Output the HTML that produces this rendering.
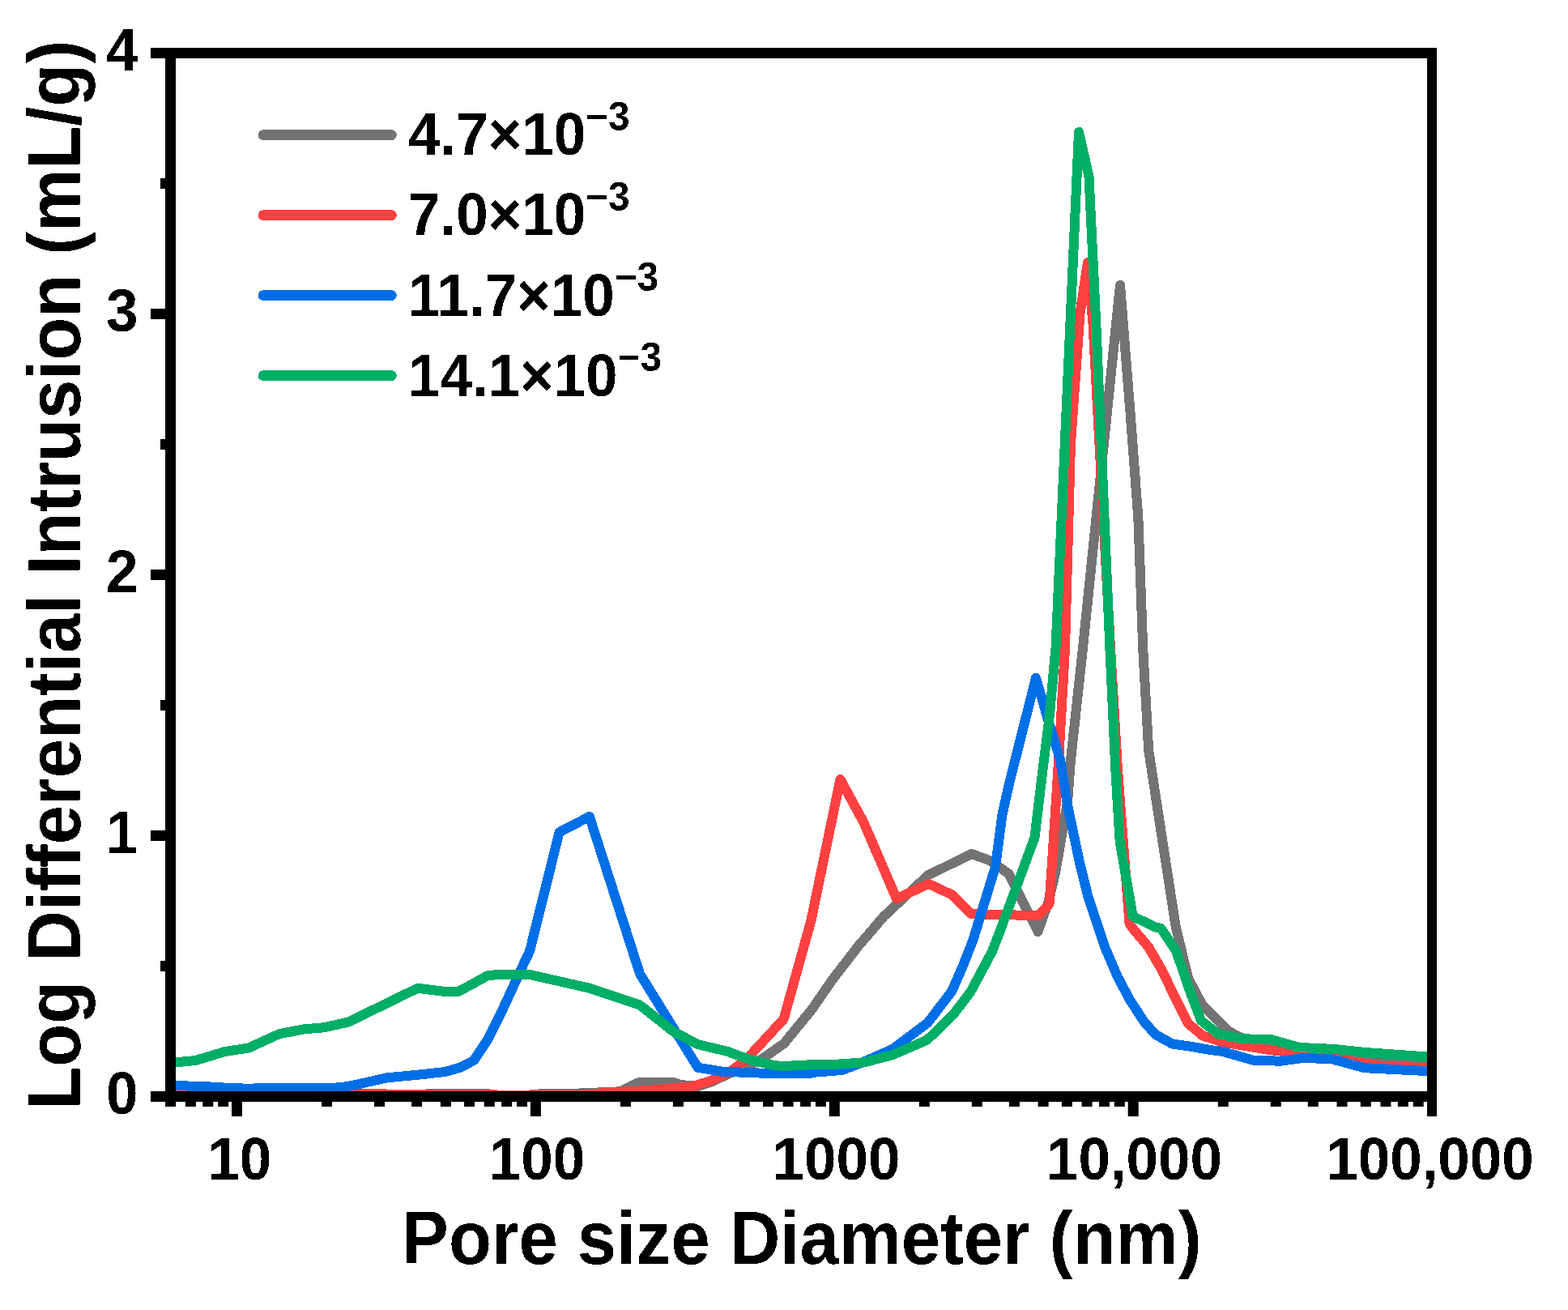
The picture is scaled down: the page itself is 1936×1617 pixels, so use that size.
<!DOCTYPE html>
<html><head><meta charset="utf-8"><title>Pore size distribution</title>
<style>html,body{margin:0;padding:0;background:#fff;}svg{display:block;}</style></head>
<body>
<svg width="1936" height="1617" viewBox="0 0 1936 1617">
<rect width="1936" height="1617" fill="#fff"/>
<defs><filter id="bin" x="0" y="0" width="1" height="1" filterUnits="objectBoundingBox"><feComponentTransfer><feFuncA type="discrete" tableValues="0 1"/></feComponentTransfer></filter><clipPath id="pc"><rect x="210.5" y="65.5" width="1557.5" height="1288"/></clipPath></defs>
<g clip-path="url(#pc)">
<polyline points="205.0,1350.5 526.0,1350.5 569.0,1350.0 605.0,1350.5 615.0,1352.5 643.0,1352.5 671.0,1350.0 704.0,1350.0 765.5,1347.3 790.0,1335.5 830.5,1335.5 840.0,1339.0 862.0,1341.0 877.0,1336.0 904.5,1323.4 939.0,1308.5 968.0,1288.0 1002.0,1246.5 1028.0,1209.0 1060.0,1167.5 1091.4,1131.0 1145.7,1080.5 1199.5,1054.0 1222.6,1062.3 1245.8,1078.8 1281.5,1150.0 1294.6,1113.1 1303.3,1076.0 1311.3,1029.0 1318.1,989.5 1321.8,940.0 1337.0,800.0 1383.0,352.0 1396.1,516.5 1405.4,640.2 1411.2,800.0 1418.2,926.3 1429.5,1000.0 1451.8,1144.7 1467.2,1207.8 1483.9,1239.4 1517.3,1272.8 1530.0,1280.0 1560.0,1290.0 1600.0,1296.0 1650.0,1302.5 1761.0,1309.0 1775.0,1309.5" fill="none" stroke="#737373" stroke-width="12" stroke-linejoin="round" stroke-linecap="butt" shape-rendering="crispEdges"/>
<polyline points="205.0,1351.0 435.0,1350.0 560.0,1351.5 605.0,1350.8 620.0,1352.0 700.0,1352.0 725.0,1351.3 755.0,1348.1 800.0,1346.0 854.0,1341.3 877.2,1334.1 899.5,1324.5 921.0,1308.3 967.7,1257.8 1001.5,1136.0 1037.5,962.0 1066.4,1015.2 1107.0,1109.4 1146.6,1090.9 1175.5,1104.5 1199.5,1128.4 1240.0,1129.0 1282.0,1130.5 1295.5,1116.0 1299.0,1065.0 1307.0,940.0 1315.0,800.0 1322.0,547.0 1333.5,387.0 1343.0,324.0 1349.5,400.0 1371.0,800.0 1380.0,950.0 1394.5,1140.0 1397.6,1144.7 1418.0,1168.9 1434.7,1197.6 1452.4,1234.7 1467.2,1263.5 1484.8,1278.3 1509.9,1286.5 1564.4,1295.5 1600.7,1300.0 1660.0,1309.0 1705.0,1315.5 1761.0,1318.5 1775.0,1319.0" fill="none" stroke="#FF4040" stroke-width="12" stroke-linejoin="round" stroke-linecap="butt" shape-rendering="crispEdges"/>
<polyline points="205.0,1340.0 217.0,1340.1 251.0,1341.0 276.0,1342.5 305.0,1343.7 334.0,1343.0 367.0,1342.5 408.0,1343.0 423.0,1342.0 437.0,1339.5 478.0,1330.3 520.0,1326.3 549.6,1323.0 567.8,1317.8 585.0,1309.0 601.7,1284.0 620.7,1245.9 642.6,1198.3 654.2,1173.5 690.6,1027.2 727.8,1007.9 790.0,1202.0 861.5,1317.6 893.7,1323.0 922.6,1323.8 947.4,1325.0 965.3,1325.2 1000.0,1325.0 1006.6,1323.6 1039.7,1321.0 1064.5,1311.5 1101.5,1295.3 1145.5,1262.4 1175.2,1223.6 1189.3,1191.3 1201.5,1160.0 1229.0,1070.0 1237.4,1006.0 1245.6,969.1 1279.0,836.7 1293.5,886.8 1309.1,938.0 1318.0,993.6 1333.0,1064.9 1343.5,1107.2 1364.6,1170.0 1380.0,1206.0 1394.8,1233.8 1412.4,1260.9 1426.8,1277.1 1447.8,1288.6 1467.2,1291.3 1495.6,1296.2 1509.9,1298.0 1549.1,1309.2 1581.6,1309.6 1606.4,1306.3 1642.7,1306.7 1684.8,1318.2 1761.2,1322.0 1775.0,1322.3" fill="none" stroke="#006FE6" stroke-width="12" stroke-linejoin="round" stroke-linecap="butt" shape-rendering="crispEdges"/>
<polyline points="205.0,1311.6 217.0,1311.3 241.4,1309.0 276.9,1298.3 307.5,1293.3 344.7,1276.3 375.3,1270.3 400.1,1268.3 429.8,1261.7 515.7,1219.8 549.6,1224.0 566.1,1224.0 601.7,1204.5 614.0,1203.0 653.7,1202.9 726.4,1219.4 789.3,1240.1 831.0,1273.0 861.5,1289.1 897.9,1297.8 922.6,1306.9 955.7,1315.1 967.3,1316.0 1000.0,1314.3 1034.7,1313.6 1067.8,1311.2 1102.5,1302.0 1144.6,1283.8 1176.9,1252.5 1198.3,1224.4 1224.8,1174.8 1234.5,1150.0 1277.5,1033.8 1286.8,955.8 1295.7,884.6 1303.5,800.0 1332.0,163.0 1344.5,218.0 1353.3,400.0 1370.4,800.0 1377.6,954.5 1382.7,1039.0 1398.7,1131.0 1426.4,1144.4 1433.5,1146.0 1452.4,1174.4 1467.2,1218.0 1483.0,1259.8 1504.3,1276.5 1534.0,1282.4 1568.2,1282.8 1604.5,1293.0 1646.6,1294.9 1686.7,1299.1 1761.2,1304.4 1775.0,1305.4" fill="none" stroke="#00AE66" stroke-width="12" stroke-linejoin="round" stroke-linecap="butt" shape-rendering="crispEdges"/>
</g>
<rect x="186.00" y="59.00" width="1588.00" height="13.00" fill="#000"/>
<rect x="186.00" y="1347.00" width="1588.00" height="13.00" fill="#000"/>
<rect x="204.00" y="59.00" width="13.00" height="1307.00" fill="#000"/>
<rect x="1762.00" y="59.00" width="12.00" height="1319.00" fill="#000"/>
<rect x="186.00" y="1025.00" width="18.00" height="13.00" fill="#000"/>
<rect x="186.00" y="703.00" width="18.00" height="13.00" fill="#000"/>
<rect x="186.00" y="381.00" width="18.00" height="13.00" fill="#000"/>
<rect x="198.00" y="1186.00" width="6.00" height="13.00" fill="#000"/>
<rect x="198.00" y="864.00" width="6.00" height="13.00" fill="#000"/>
<rect x="198.00" y="542.00" width="6.00" height="13.00" fill="#000"/>
<rect x="198.00" y="220.00" width="6.00" height="13.00" fill="#000"/>
<rect x="286.00" y="1360.00" width="13.00" height="18.00" fill="#000"/>
<rect x="654.90" y="1360.00" width="13.00" height="18.00" fill="#000"/>
<rect x="1023.80" y="1360.00" width="13.00" height="18.00" fill="#000"/>
<rect x="1392.70" y="1360.00" width="13.00" height="18.00" fill="#000"/>
<rect x="204.16" y="1360.00" width="13.00" height="6.00" fill="#000"/>
<rect x="228.86" y="1360.00" width="13.00" height="6.00" fill="#000"/>
<rect x="250.25" y="1360.00" width="13.00" height="6.00" fill="#000"/>
<rect x="269.12" y="1360.00" width="13.00" height="6.00" fill="#000"/>
<rect x="397.05" y="1360.00" width="13.00" height="6.00" fill="#000"/>
<rect x="462.01" y="1360.00" width="13.00" height="6.00" fill="#000"/>
<rect x="508.10" y="1360.00" width="13.00" height="6.00" fill="#000"/>
<rect x="543.85" y="1360.00" width="13.00" height="6.00" fill="#000"/>
<rect x="573.06" y="1360.00" width="13.00" height="6.00" fill="#000"/>
<rect x="597.76" y="1360.00" width="13.00" height="6.00" fill="#000"/>
<rect x="619.15" y="1360.00" width="13.00" height="6.00" fill="#000"/>
<rect x="638.02" y="1360.00" width="13.00" height="6.00" fill="#000"/>
<rect x="765.95" y="1360.00" width="13.00" height="6.00" fill="#000"/>
<rect x="830.91" y="1360.00" width="13.00" height="6.00" fill="#000"/>
<rect x="877.00" y="1360.00" width="13.00" height="6.00" fill="#000"/>
<rect x="912.75" y="1360.00" width="13.00" height="6.00" fill="#000"/>
<rect x="941.96" y="1360.00" width="13.00" height="6.00" fill="#000"/>
<rect x="966.66" y="1360.00" width="13.00" height="6.00" fill="#000"/>
<rect x="988.05" y="1360.00" width="13.00" height="6.00" fill="#000"/>
<rect x="1006.92" y="1360.00" width="13.00" height="6.00" fill="#000"/>
<rect x="1134.85" y="1360.00" width="13.00" height="6.00" fill="#000"/>
<rect x="1199.81" y="1360.00" width="13.00" height="6.00" fill="#000"/>
<rect x="1245.90" y="1360.00" width="13.00" height="6.00" fill="#000"/>
<rect x="1281.65" y="1360.00" width="13.00" height="6.00" fill="#000"/>
<rect x="1310.86" y="1360.00" width="13.00" height="6.00" fill="#000"/>
<rect x="1335.56" y="1360.00" width="13.00" height="6.00" fill="#000"/>
<rect x="1356.95" y="1360.00" width="13.00" height="6.00" fill="#000"/>
<rect x="1375.82" y="1360.00" width="13.00" height="6.00" fill="#000"/>
<rect x="1503.75" y="1360.00" width="13.00" height="6.00" fill="#000"/>
<rect x="1568.71" y="1360.00" width="13.00" height="6.00" fill="#000"/>
<rect x="1614.80" y="1360.00" width="13.00" height="6.00" fill="#000"/>
<rect x="1650.55" y="1360.00" width="13.00" height="6.00" fill="#000"/>
<rect x="1679.76" y="1360.00" width="13.00" height="6.00" fill="#000"/>
<rect x="1704.46" y="1360.00" width="13.00" height="6.00" fill="#000"/>
<rect x="1725.85" y="1360.00" width="13.00" height="6.00" fill="#000"/>
<rect x="1744.72" y="1360.00" width="13.00" height="6.00" fill="#000"/>
<line x1="325" y1="166.6" x2="483.5" y2="166.6" stroke="#737373" stroke-width="12.6" stroke-linecap="round" shape-rendering="crispEdges"/>
<line x1="325" y1="265.6" x2="483.5" y2="265.6" stroke="#FF4040" stroke-width="12.6" stroke-linecap="round" shape-rendering="crispEdges"/>
<line x1="325" y1="364.6" x2="483.5" y2="364.6" stroke="#006FE6" stroke-width="12.6" stroke-linecap="round" shape-rendering="crispEdges"/>
<line x1="325" y1="463.6" x2="483.5" y2="463.6" stroke="#00AE66" stroke-width="12.6" stroke-linecap="round" shape-rendering="crispEdges"/>
<g filter="url(#bin)">
<text transform="translate(170.5,1374.8) scale(1,1.039)" text-anchor="end" font-size="71" font-family="'Liberation Sans', sans-serif" font-weight="bold">0</text>
<text transform="translate(170.5,1052.8) scale(1,1.039)" text-anchor="end" font-size="71" font-family="'Liberation Sans', sans-serif" font-weight="bold">1</text>
<text transform="translate(170.5,730.8) scale(1,1.039)" text-anchor="end" font-size="71" font-family="'Liberation Sans', sans-serif" font-weight="bold">2</text>
<text transform="translate(170.5,408.8) scale(1,1.039)" text-anchor="end" font-size="71" font-family="'Liberation Sans', sans-serif" font-weight="bold">3</text>
<text transform="translate(170.5,86.8) scale(1,1.039)" text-anchor="end" font-size="71" font-family="'Liberation Sans', sans-serif" font-weight="bold">4</text>
<text transform="translate(295.8,1456) scale(1,1.039)" text-anchor="middle" font-size="71" font-family="'Liberation Sans', sans-serif" font-weight="bold">10</text>
<text transform="translate(662.9,1456) scale(1,1.039)" text-anchor="middle" font-size="71" font-family="'Liberation Sans', sans-serif" font-weight="bold">100</text>
<text transform="translate(1032.5,1456) scale(1,1.039)" text-anchor="middle" font-size="71" font-family="'Liberation Sans', sans-serif" font-weight="bold">1000</text>
<text transform="translate(1400.5,1456) scale(1,1.039)" text-anchor="middle" font-size="71" font-family="'Liberation Sans', sans-serif" font-weight="bold">10,000</text>
<text transform="translate(1765.5,1456) scale(1,1.039)" text-anchor="middle" font-size="71" font-family="'Liberation Sans', sans-serif" font-weight="bold">100,000</text>
<text transform="translate(496.1,1560) scale(0.985,1.05)" font-size="88" font-family="'Liberation Sans', sans-serif" font-weight="bold">Pore size Diameter (nm)</text>
<text transform="translate(99.1,1369.7) rotate(-90) scale(0.9856,1.055)" font-size="88" font-family="'Liberation Sans', sans-serif" font-weight="bold">Log Differential Intrusion (mL/g)</text>
<text transform="translate(504,191.3) scale(1,1.045)" font-size="71" font-family="'Liberation Sans', sans-serif" font-weight="bold">4.7×10<tspan font-size="47.8" dy="-29">−3</tspan></text>
<text transform="translate(504,290.4) scale(1,1.045)" font-size="71" font-family="'Liberation Sans', sans-serif" font-weight="bold">7.0×10<tspan font-size="47.8" dy="-29">−3</tspan></text>
<text transform="translate(504,389.5) scale(1,1.045)" font-size="71" font-family="'Liberation Sans', sans-serif" font-weight="bold">11.7×10<tspan font-size="47.8" dy="-29">−3</tspan></text>
<text transform="translate(504,488.6) scale(1,1.045)" font-size="71" font-family="'Liberation Sans', sans-serif" font-weight="bold">14.1×10<tspan font-size="47.8" dy="-29">−3</tspan></text>
</g>
</svg>
</body></html>
